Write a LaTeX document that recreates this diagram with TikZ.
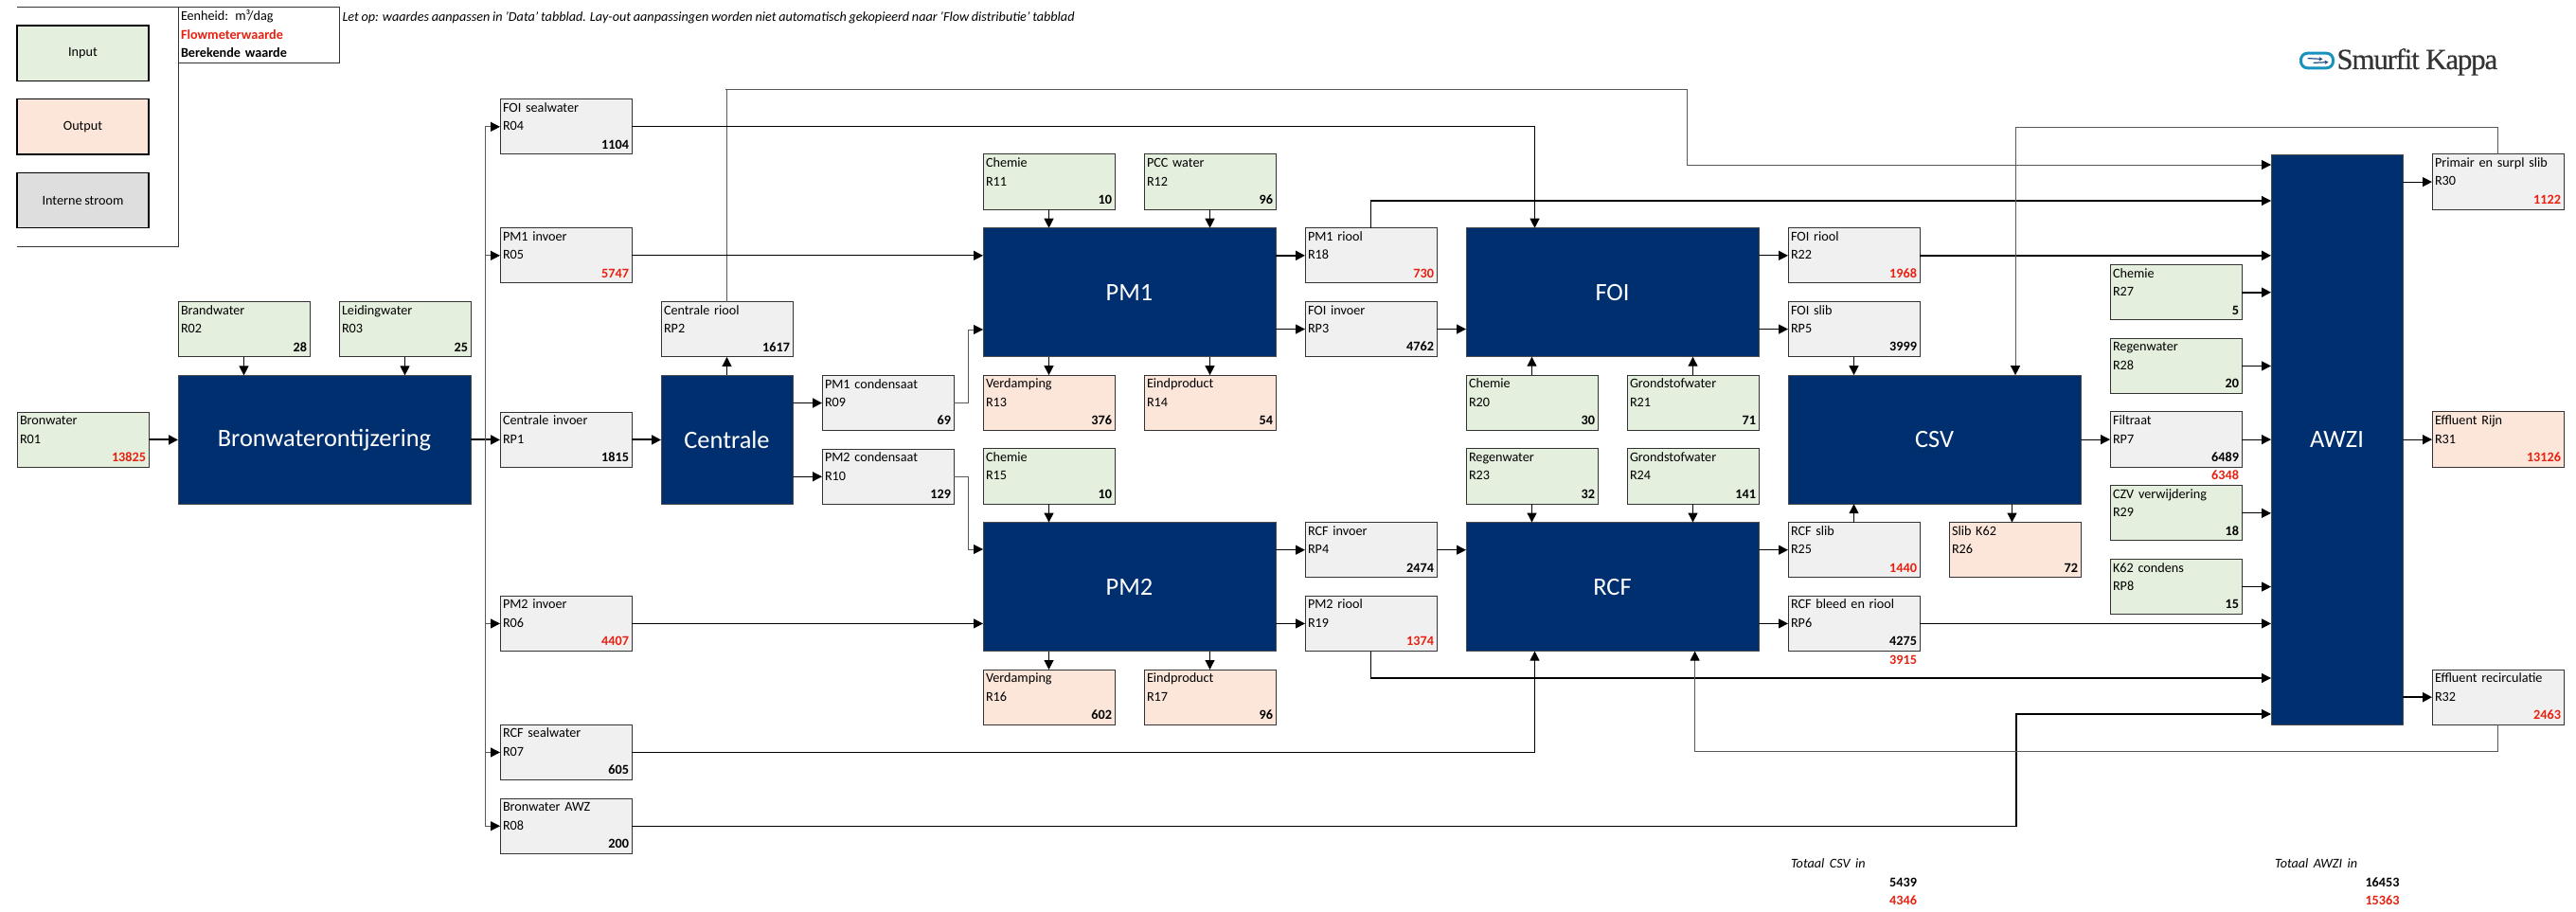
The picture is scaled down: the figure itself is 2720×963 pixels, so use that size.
\documentclass[tikz,border=0pt]{standalone}
\usepackage{fontspec}
\setmainfont[WordSpace=0.85]{Carlito}
\newfontfamily\logofont[LetterSpace=-4,FakeBold=0.25]{Liberation Serif}
\usepackage{xcolor}
\usetikzlibrary{arrows.meta, positioning, calc}
\definecolor{procblue}{HTML}{002F6F}
\definecolor{ingreen}{HTML}{E4EFDD}
\definecolor{outrose}{HTML}{FCE6DA}
\definecolor{intgray}{HTML}{F0F0F0}
\definecolor{leggray}{HTML}{DEDEDE}
\definecolor{flowred}{HTML}{E8200F}
\definecolor{logoblue}{HTML}{1A92BE}
\definecolor{logonavy}{HTML}{1F4E86}
\newcommand{\boxtext}[3]{\strut #1\\\strut #2\\\strut\hfill #3}
\newcommand{\valcalc}[1]{\textbf{#1}}
\newcommand{\valmeter}[1]{\textbf{\color{flowred}#1}}

\begin{document}
\begin{tikzpicture}[
    x=0.5pt, y=-0.5pt,
    node distance=9.715pt and 15.5pt,
    smalltext/.style={font=\fontsize{7.1}{9.715}\selectfont},
    flowbox/.style={rectangle, draw=black!80, line width=0.5pt, smalltext, text width=66.5pt, align=left, inner xsep=1.5pt, inner ysep=0pt, outer sep=0pt, minimum width=69.5pt, minimum height=29.145pt},
    inbox/.style={flowbox, fill=ingreen},
    outbox/.style={flowbox, fill=outrose},
    intbox/.style={flowbox, fill=intgray},
    legendbox/.style={rectangle, draw=black, line width=0.7pt, smalltext, align=center, outer sep=0pt, minimum width=69.5pt, minimum height=29.145pt},
    procbox/.style={rectangle, draw=black!70, line width=0.4pt, fill=procblue, text=white, font=\fontsize{13.2}{15}\selectfont, outer sep=0pt, minimum width=154.5pt, minimum height=68pt},
    note/.style={smalltext, inner sep=0pt, outer sep=0pt},
    line/.style={draw, black, line width=0.55pt, -{Triangle[length=5pt,width=5pt]}},
    thickline/.style={line, line width=0.95pt},
    thinline/.style={draw, black!65, line width=0.4pt, -{Triangle[length=5pt,width=5pt,color=black]}},
]
\useasboundingbox (0,0) rectangle (2720,963);

% legenda
\node [legendbox, fill=ingreen, anchor=north west] (leginput) at (18,27) {Input};
\node [legendbox, fill=outrose, below=of leginput] (legoutput) {Output};
\node [legendbox, fill=leggray, below=of legoutput] (legintern) {Interne stroom};
\node [flowbox, anchor=north west, minimum width=85pt, text width=82pt, fill=white] (eenheid) at (188,8) {\strut Eenheid: m³/dag\\\strut\valmeter{Flowmeterwaarde}\\\strut\valcalc{Berekende waarde}};
\coordinate (legtop) at (18,8);
\coordinate (legbot) at (18,260);
\draw [black!80, line width=0.5pt] (legtop) -- (eenheid.north west) -- (eenheid.north west |- legbot) -- (legbot);
\node [note, anchor=west] (remark) at (361.5,18.5) {\textit{Let op: waardes aanpassen in 'Data' tabblad. Lay-out aanpassingen worden niet automatisch gekopieerd naar 'Flow distributie' tabblad}};

% logo
\node [rectangle, draw=logoblue, line width=1.5pt, rounded corners=3.5pt, minimum width=17pt, minimum height=7.8pt, inner sep=0pt, anchor=west] (logoicon) at (2428,64) {};
\node [anchor=base west, inner sep=0pt, text=black!80, font=\fontsize{15.5}{18}\logofont] (logo) at (2467,73) {Smurfit Kappa};
\draw [logonavy, line width=0.6pt, -{Stealth[length=2pt,width=2.2pt]}] ([xshift=-5pt,yshift=1.2pt]logoicon.center) -- ([xshift=3pt,yshift=0.8pt]logoicon.center);
\draw [logonavy, line width=0.6pt, -{Stealth[length=2pt,width=2.2pt]}] ([xshift=-2pt,yshift=-1.2pt]logoicon.center) -- ([xshift=6pt,yshift=-0.8pt]logoicon.center);

% bronwater
\node [procbox, anchor=north west] (bron) at (188,396.4) {Bronwaterontijzering};
\node [inbox, left=of bron] (R01) {\boxtext{Bronwater}{R01}{\valmeter{13825}}};
\node [inbox, above=of bron.north west, anchor=south west] (R02) {\boxtext{Brandwater}{R02}{\valcalc{28}}};
\node [inbox, above=of bron.north east, anchor=south east] (R03) {\boxtext{Leidingwater}{R03}{\valcalc{25}}};
\node [intbox, right=of bron] (RP1) {\boxtext{Centrale invoer}{RP1}{\valcalc{1815}}};
\node [intbox, anchor=north west] (R04) at (528,104.7) {\boxtext{FOI sealwater}{R04}{\valcalc{1104}}};
\node [intbox, anchor=north west] (R05) at (528,240.7) {\boxtext{PM1 invoer}{R05}{\valmeter{5747}}};
\node [intbox, anchor=north west] (R06) at (528,629.3) {\boxtext{PM2 invoer}{R06}{\valmeter{4407}}};
\node [intbox, anchor=north west] (R07) at (528,765.3) {\boxtext{RCF sealwater}{R07}{\valcalc{605}}};
\node [intbox, anchor=north west] (R08) at (528,843.1) {\boxtext{Bronwater AWZ}{R08}{\valcalc{200}}};

% centrale
\node [procbox, minimum width=69.5pt, right=of RP1] (centrale) {Centrale};
\node [intbox, above=of centrale] (RP2) {\boxtext{Centrale riool}{RP2}{\valcalc{1617}}};
\node [intbox, right=of centrale.north east, anchor=north west] (R09) {\boxtext{PM1 condensaat}{R09}{\valcalc{69}}};
\node [intbox, right=of centrale.south east, anchor=south west] (R10) {\boxtext{PM2 condensaat}{R10}{\valcalc{129}}};

% PM1 en PM2
\node [procbox, anchor=north west] (pm1) at (1038,240.7) {PM1};
\node [inbox, above=of pm1.north west, anchor=south west] (R11) {\boxtext{Chemie}{R11}{\valcalc{10}}};
\node [inbox, above=of pm1.north east, anchor=south east] (R12) {\boxtext{PCC water}{R12}{\valcalc{96}}};
\node [outbox, below=of pm1.south west, anchor=north west] (R13) {\boxtext{Verdamping}{R13}{\valcalc{376}}};
\node [outbox, below=of pm1.south east, anchor=north east] (R14) {\boxtext{Eindproduct}{R14}{\valcalc{54}}};
\node [inbox, below=of R13] (R15) {\boxtext{Chemie}{R15}{\valcalc{10}}};
\node [procbox, below=of R15.south west, anchor=north west] (pm2) {PM2};
\node [outbox, below=of pm2.south west, anchor=north west] (R16) {\boxtext{Verdamping}{R16}{\valcalc{602}}};
\node [outbox, below=of pm2.south east, anchor=north east] (R17) {\boxtext{Eindproduct}{R17}{\valcalc{96}}};
\node [intbox, right=of pm1.north east, anchor=north west] (R18) {\boxtext{PM1 riool}{R18}{\valmeter{730}}};
\node [intbox, right=of pm1.south east, anchor=south west] (RP3) {\boxtext{FOI invoer}{RP3}{\valcalc{4762}}};
\node [intbox, right=of pm2.north east, anchor=north west] (RP4) {\boxtext{RCF invoer}{RP4}{\valcalc{2474}}};
\node [intbox, right=of pm2.south east, anchor=south west] (R19) {\boxtext{PM2 riool}{R19}{\valmeter{1374}}};

% FOI en RCF
\node [procbox, right=of R18.north east, anchor=north west] (foi) {FOI};
\node [inbox, below=of foi.south west, anchor=north west] (R20) {\boxtext{Chemie}{R20}{\valcalc{30}}};
\node [inbox, below=of foi.south east, anchor=north east] (R21) {\boxtext{Grondstofwater}{R21}{\valcalc{71}}};
\node [inbox, below=of R20] (R23) {\boxtext{Regenwater}{R23}{\valcalc{32}}};
\node [inbox, below=of R21] (R24) {\boxtext{Grondstofwater}{R24}{\valcalc{141}}};
\node [procbox, right=of RP4.north east, anchor=north west] (rcf) {RCF};
\node [intbox, right=of foi.north east, anchor=north west] (R22) {\boxtext{FOI riool}{R22}{\valmeter{1968}}};
\node [intbox, right=of foi.south east, anchor=south west] (RP5) {\boxtext{FOI slib}{RP5}{\valcalc{3999}}};
\node [intbox, right=of rcf.north east, anchor=north west] (R25) {\boxtext{RCF slib}{R25}{\valmeter{1440}}};
\node [intbox, right=of rcf.south east, anchor=south west] (RP6) {\boxtext{RCF bleed en riool}{RP6}{\valcalc{4275}}};
\node [note, below=0pt of RP6.south east, anchor=north east, xshift=-1.5pt] (RP6red) {\strut\valmeter{3915}};

% CSV
\node [procbox, below=of RP5.south west, anchor=north west] (csv) {CSV};
\node [outbox, right=of R25] (R26) {\boxtext{Slib K62}{R26}{\valcalc{72}}};
\node [intbox, right=of csv] (RP7) {\boxtext{Filtraat}{RP7}{\valcalc{6489}}};
\node [note, below=0pt of RP7.south east, anchor=north east, xshift=-1.5pt] (RP7red) {\strut\valmeter{6348}};
\node [inbox, above=of RP7] (R28) {\boxtext{Regenwater}{R28}{\valcalc{20}}};
\node [inbox, above=of R28] (R27) {\boxtext{Chemie}{R27}{\valcalc{5}}};
\node [inbox, below=of RP7] (R29) {\boxtext{CZV verwijdering}{R29}{\valcalc{18}}};
\node [inbox, below=of R29] (RP8) {\boxtext{K62 condens}{RP8}{\valcalc{15}}};

% AWZI
\node [procbox, minimum width=69.5pt, minimum height=301.2pt, right=of RP7] (awzi) {AWZI};
\node [intbox, right=of awzi.north east, anchor=north west] (R30) {\boxtext{Primair en surpl slib}{R30}{\valmeter{1122}}};
\node [outbox, right=of awzi] (R31) {\boxtext{Effluent Rijn}{R31}{\valmeter{13126}}};
\node [intbox, right=of awzi.south east, anchor=south west] (R32) {\boxtext{Effluent recirculatie}{R32}{\valmeter{2463}}};

% totalen
\node [note, anchor=west] (totcsv) at (1891,912) {\textit{Totaal\ \ CSV\ \ in}};
\node [note, anchor=east] (totcsvb) at (2024,931.5) {\valcalc{5439}};
\node [note, anchor=east] (totcsvr) at (2024,950.5) {\valmeter{4346}};
\node [note, anchor=west] (totawzi) at (2402,912) {\textit{Totaal\ \ AWZI\ \ in}};
\node [note, anchor=east] (totawzib) at (2533.5,931.5) {\valcalc{16453}};
\node [note, anchor=east] (totawzir) at (2533.5,950.5) {\valmeter{15363}};

% verdeling bronwater
\coordinate (bus) at ($(bron.east)!0.5!(RP1.west)$);
\path [thickline] (R01) -- (bron);
\path [thickline] (bron) -- (RP1);
\path [thickline] (RP1) -- (centrale);
\path [line] (R02.south) -- (R02.south |- bron.north);
\path [line] (R03.south) -- (R03.south |- bron.north);
\path [thinline] (bus) |- (R04);
\path [thinline] (bus) |- (R05);
\path [thinline] (bus) |- (R06);
\path [thinline] (bus) |- (R07);
\path [thinline] (bus) |- (R08);

% centrale
\coordinate (rp2a) at (766,94.6);
\coordinate (rp2b) at (1781,174);
\coordinate (r09k) at (1022,348);
\coordinate (r10k) at (1022,580);
\path [line] (centrale) -- (RP2);
\path [thinline] (RP2.north) |- (rp2a) -| (rp2b) -- (rp2b -| awzi.west);
\path [thickline] (R09 -| centrale.east) -- (R09);
\path [line] (R10 -| centrale.east) -- (R10);
\path [thinline] (R09) -| (r09k) -- (r09k -| pm1.west);
\path [thinline] (R10) -| (r10k) -- (r10k -| pm2.west);

% invoer PM1, PM2, FOI, RCF
\path [line] (R04) -| ([xshift=36.25pt]foi.north west);
\path [line] (R05) -- (R05 -| pm1.west);
\path [line] (R06) -- (R06 -| pm2.west);
\path [line] (R07) -| ([xshift=36.25pt]rcf.south west);
\path [line] (R11.south) -- (R11.south |- pm1.north);
\path [line] (R12.south) -- (R12.south |- pm1.north);
\path [line] (R13.north |- pm1.south) -- (R13.north);
\path [line] (R14.north |- pm1.south) -- (R14.north);
\path [line] (R15.south) -- (R15.south |- pm2.north);
\path [line] (R16.north |- pm2.south) -- (R16.north);
\path [line] (R17.north |- pm2.south) -- (R17.north);
\path [thickline] (R18 -| pm1.east) -- (R18);
\path [line] (RP3 -| pm1.east) -- (RP3);
\path [line] (RP4 -| pm2.east) -- (RP4);
\path [line] (R19 -| pm2.east) -- (R19);
\path [line] (RP3) -- (RP3 -| foi.west);
\path [line] (RP4) -- (RP4 -| rcf.west);
\path [line] (R20.north) -- (R20.north |- foi.south);
\path [line] (R21.north) -- (R21.north |- foi.south);
\path [line] (R23.south) -- (R23.south |- rcf.north);
\path [line] (R24.south) -- (R24.south |- rcf.north);

% uitgang FOI, RCF, CSV
\path [line] (R22 -| foi.east) -- (R22);
\path [line] (RP5 -| foi.east) -- (RP5);
\path [line] (RP5.south) -- (RP5.south |- csv.north);
\path [line] (R25 -| rcf.east) -- (R25);
\path [line] (RP6 -| rcf.east) -- (RP6);
\path [line] (R25.north) -- (R25.north |- csv.south);
\path [line] ([xshift=-1.5pt]R26.north |- csv.south) -- ([xshift=-1.5pt]R26.north);
\path [line] (RP7 -| csv.east) -- (RP7);

% naar AWZI
\coordinate (r18a) at (1447.5,212);
\coordinate (r19a) at (1447.5,716);
\coordinate (r08a) at (2129,754);
\path [line] (R18.north) |- (r18a -| awzi.west);
\path [line] (R19.south) |- (r19a -| awzi.west);
\path [thickline] (R22) -- (R22 -| awzi.west);
\path [line] (RP6) -- (RP6 -| awzi.west);
\path [line] (R08) -| (r08a) -- (r08a -| awzi.west);
\path [thickline] (R27) -- (R27 -| awzi.west);
\path [line] (R28) -- (R28 -| awzi.west);
\path [line] (RP7) -- (RP7 -| awzi.west);
\path [line] (R29) -- (R29 -| awzi.west);
\path [line] (RP8) -- (RP8 -| awzi.west);

% uitgang AWZI
\coordinate (r30a) at (2128,134.3);
\coordinate (r32a) at (1789.6,793.3);
\path [line] (R30 -| awzi.east) -- (R30);
\path [line] (R31 -| awzi.east) -- (R31);
\path [thickline] (R32 -| awzi.east) -- (R32);
\path [thinline] (R30.north) |- (r30a) -- (r30a |- csv.north);
\path [thinline] (R32.south) |- (r32a) -- (r32a |- rcf.south);
\end{tikzpicture}
\end{document}
